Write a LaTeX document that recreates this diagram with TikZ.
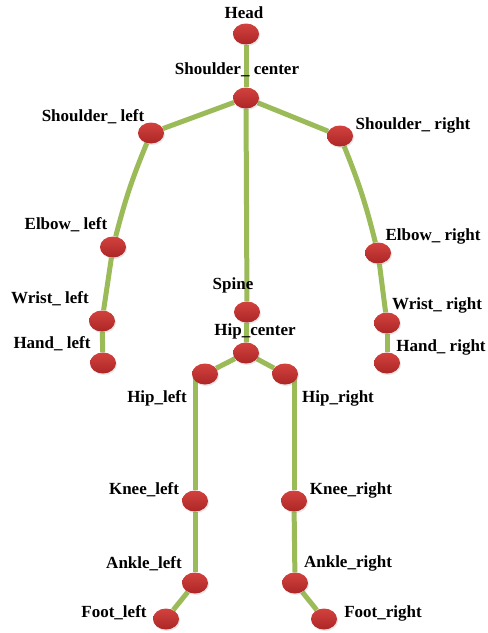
\documentclass[tikz,border=0pt]{standalone}
\usepackage{fontspec}
\setmainfont{Liberation Serif}
\usetikzlibrary{shapes.geometric,shadows,backgrounds}
\definecolor{bonegreen}{RGB}{155,187,89}
\definecolor{jointtop}{RGB}{210,66,62}
\definecolor{jointbot}{RGB}{172,38,38}
\begin{document}
\begin{tikzpicture}[x=1pt,y=1pt,
  joint/.style={ellipse,minimum width=26pt,minimum height=21pt,inner sep=0pt,
    top color=jointtop,bottom color=jointbot,draw=none,
    drop shadow={opacity=0.2,shadow xshift=1pt,shadow yshift=-1.5pt}},
  bone/.style={bonegreen,line width=5pt},
  lbl/.style={font=\fontsize{17}{19}\selectfont\bfseries,inner sep=0pt}]
\useasboundingbox (0,0) rectangle (488,-633);
% joints
\node[joint] (head) at (246,-34) {};
\node[joint] (shc) at (246,-98) {};
\node[joint] (shl) at (151,-133) {};
\node[joint] (shr) at (340,-136) {};
\node[joint] (elbl) at (113,-247) {};
\node[joint] (elbr) at (378,-253) {};
\node[joint] (wrl) at (102,-321) {};
\node[joint] (wrr) at (387,-323) {};
\node[joint] (hndl) at (103,-363) {};
\node[joint] (hndr) at (387,-363) {};
\node[joint] (spine) at (247,-312) {};
\node[joint] (hipc) at (246,-353) {};
\node[joint] (hipl) at (205,-374) {};
\node[joint] (hipr) at (285,-374) {};
\node[joint] (kneel) at (195,-501) {};
\node[joint] (kneer) at (294,-501) {};
\node[joint] (anklel) at (195,-583) {};
\node[joint] (ankler) at (295,-583) {};
\node[joint] (footl) at (166,-619) {};
\node[joint] (footr) at (324,-619) {};
% bones
\begin{scope}[on background layer]
\draw[bone] (head) -- (shc);
\draw[bone] (shc) -- (shl);
\draw[bone] (shc) -- (shr);
\draw[bone] (shc) -- (spine);
\draw[bone] (shl) to[bend right=4] (elbl);
\draw[bone] (elbl) -- (wrl);
\draw[bone] (wrl) -- (hndl);
\draw[bone] (shr) to[bend left=4] (elbr);
\draw[bone] (elbr) -- (wrr);
\draw[bone] (wrr) -- (hndr);
\draw[bone] (spine) -- (hipc);
\draw[bone] (hipc) -- (hipl);
\draw[bone] (hipc) -- (hipr);
\draw[bone] (kneel |- hipl) -- (kneel);
\draw[bone] (kneel) -- (anklel);
\draw[bone] (anklel) -- (footl);
\draw[bone] (kneer |- hipr) -- (kneer);
\draw[bone] (kneer) -- (ankler);
\draw[bone] (ankler) -- (footr);
\end{scope}
% labels
\node[lbl] (thead) at (244,-13) {Head};
\node[lbl] (tshc) at (237,-70) {Shoulder\_ center};
\node[lbl] (tshl) at (93,-117) {Shoulder\_ left};
\node[lbl] (tshr) at (413,-125) {Shoulder\_ right};
\node[lbl] (telbl) at (66,-225) {Elbow\_ left};
\node[lbl] (telbr) at (433,-236) {Elbow\_ right};
\node[lbl] (twrl) at (50,-299) {Wrist\_ left};
\node[lbl] (twrr) at (437,-305) {Wrist\_ right};
\node[lbl] (thndl) at (52,-344) {Hand\_ left};
\node[lbl] (thndr) at (441,-347) {Hand\_ right};
\node[lbl] (tspine) at (233,-285) {Spine};
\node[lbl] (thipc) at (255,-331) {Hip\_center};
\node[lbl] (thipl) at (157,-398) {Hip\_left};
\node[lbl] (thipr) at (338,-398) {Hip\_right};
\node[lbl] (tkneel) at (144,-490) {Knee\_left};
\node[lbl] (tkneer) at (351,-490) {Knee\_right};
\node[lbl] (tanklel) at (144,-564) {Ankle\_left};
\node[lbl] (tankler) at (348,-563) {Ankle\_right};
\node[lbl] (tfootl) at (114,-613) {Foot\_left};
\node[lbl] (tfootr) at (383,-613) {Foot\_right};
\end{tikzpicture}
\end{document}
